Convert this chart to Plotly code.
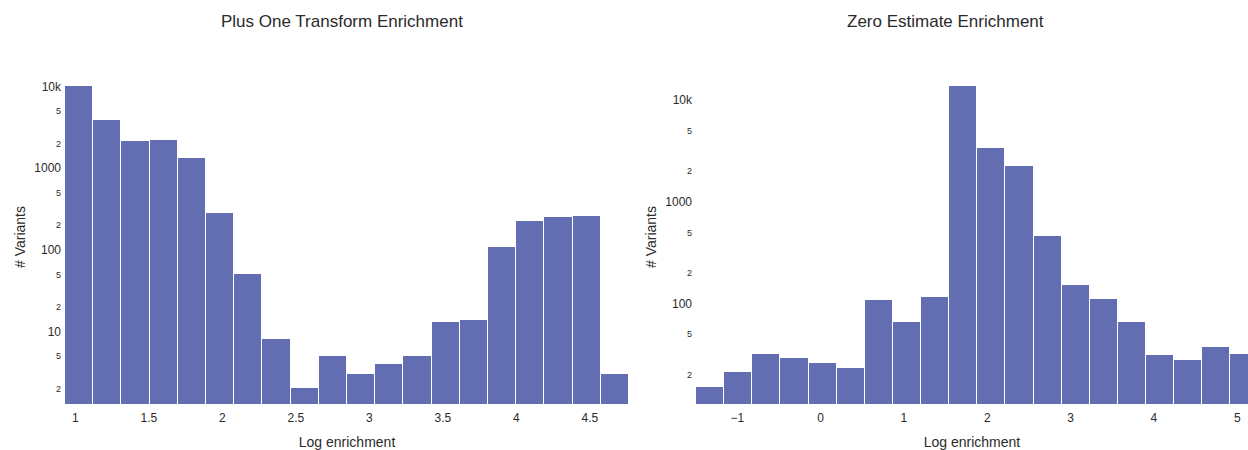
import plotly.graph_objects as go
from plotly.subplots import make_subplots

# Histogram counts (20 equal-width bins per panel)
plus_one_start = 0.930
plus_one_binsize = 0.1918
plus_one_counts = [10300, 3930, 2170, 2230, 1350, 280, 50, 8, 2, 5,
                   3, 4, 5, 13, 14, 107, 224, 253, 263, 3]

zero_est_start = -1.4956
zero_est_binsize = 0.3376
zero_est_counts = [15, 21, 32, 29, 26, 23, 108, 66, 115, 13700,
                   3380, 2240, 464, 153, 111, 66, 31, 28, 37, 32]

titles = ["Plus One Transform Enrichment", "Zero Estimate Enrichment"]
x_title = "Log enrichment"
y_title = "# Variants"

BAR_COLOR = "#626db2"
FONT = "Arial, Liberation Sans, sans-serif"
TEXT = "#2b2b2b"


def centers(start, size, n):
    return [start + size * (i + 0.5) for i in range(n)]


fig = make_subplots(rows=1, cols=2, horizontal_spacing=0.0)

fig.add_trace(go.Bar(
    x=centers(plus_one_start, plus_one_binsize, len(plus_one_counts)),
    y=plus_one_counts, width=plus_one_binsize,
    marker=dict(color=BAR_COLOR, line=dict(color="white", width=1)),
    showlegend=False), row=1, col=1)

fig.add_trace(go.Bar(
    x=centers(zero_est_start, zero_est_binsize, len(zero_est_counts)),
    y=zero_est_counts, width=zero_est_binsize,
    marker=dict(color=BAR_COLOR, line=dict(color="white", width=1)),
    showlegend=False), row=1, col=2)

axis_common = dict(showgrid=False, zeroline=False, showline=False, ticks="",
                   tickfont=dict(size=12, color=TEXT, family=FONT),
                   title_font=dict(size=14, color=TEXT, family=FONT))

fig.update_xaxes(**axis_common, title_text=x_title, ticklabelstandoff=5,
                 title_standoff=13)
fig.update_yaxes(**axis_common, title_text=y_title, type="log", dtick="D2",
                 ticklabelstandoff=3, title_standoff=5)

fig.update_layout(
    xaxis=dict(domain=[0, 0.4768],
               range=[plus_one_start, plus_one_start + plus_one_binsize * len(plus_one_counts)]),
    xaxis2=dict(domain=[0.5334, 1.0], range=[zero_est_start, 5.129]),
    yaxis=dict(range=[0.111, 4.204]),
    yaxis2=dict(range=[1.012, 4.298]),
    bargap=0,
    width=1248, height=450,
    margin=dict(l=65, r=0, t=70, b=46),
    paper_bgcolor="white", plot_bgcolor="white",
    font=dict(family=FONT, color=TEXT),
    annotations=[
        dict(text=titles[0], x=0.2342, y=1.1467, xref="paper", yref="paper",
             xanchor="center", yanchor="middle", showarrow=False,
             font=dict(size=17, color=TEXT, family=FONT)),
        dict(text=titles[1], x=0.7439, y=1.1467, xref="paper", yref="paper",
             xanchor="center", yanchor="middle", showarrow=False,
             font=dict(size=17, color=TEXT, family=FONT)),
    ],
)

fig.write_html("out.html")
